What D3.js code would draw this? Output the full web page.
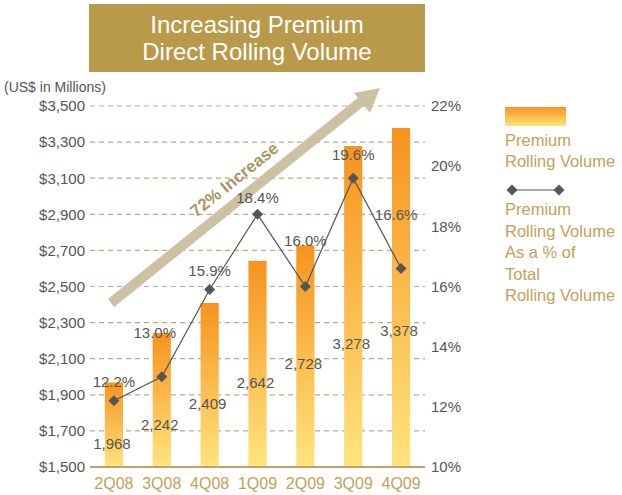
<!DOCTYPE html>
<html>
<head>
<meta charset="utf-8">
<script src="https://cdn.jsdelivr.net/npm/d3@7"></script>
<style>
    body { margin: 0; background: #fff; }
    svg { font-family: "Liberation Sans", Arial, sans-serif; }
</style>
</head>
<body>
<svg id="chart" width="622" height="495"></svg>
<script>
// dados
const quarters = ["2Q08", "3Q08", "4Q08", "1Q09", "2Q09", "3Q09", "4Q09"];
const volume = [1968, 2242, 2409, 2642, 2728, 3278, 3378];
const share = [12.2, 13.0, 15.9, 18.4, 16.0, 19.6, 16.6];
const leftTicks = [1500, 1700, 1900, 2100, 2300, 2500, 2700, 2900, 3100, 3300, 3500];
const rightTicks = [10, 12, 14, 16, 18, 20, 22];

// posicao dos rotulos (ajuste manual como no original)
const volLabelY = [444, 425, 404, 383, 364, 344, 331];
const pctLabelDx = [0, -7, 0, 0, 0, 0, -5];
const pctLabelDy = [-19, -44, -19, -16, -46, -23, -53];

const gray = "#555555", tan = "#c2a15a";

const svg = d3.select("#chart");
const plotLeft = 90, plotRight = 425, plotTop = 106, plotBottom = 467;

const x = d3.scaleBand().domain(quarters).range([plotLeft, plotRight]).paddingInner(0.62).paddingOuter(0.31);
const y = d3.scaleLinear().domain([1500, 3500]).range([plotBottom, plotTop]);
const y2 = d3.scaleLinear().domain([10, 22]).range([plotBottom, plotTop]);

// gradiente das barras
let defs = svg.append("defs");
let grad = defs.append("linearGradient").attr("id", "barGrad")
    .attr("x1", 0).attr("y1", 0).attr("x2", 0).attr("y2", 1);
grad.append("stop").attr("offset", "0%").attr("stop-color", "#f7931e");
grad.append("stop").attr("offset", "100%").attr("stop-color", "#ffe47e");

// titulo
svg.append("rect").attr("x", 89).attr("y", 4).attr("width", 336).attr("height", 68).attr("fill", "#b99a4b");
svg.append("text").attr("x", 257).attr("y", 33).attr("text-anchor", "middle")
    .attr("fill", "#fff").style("font-size", "24px").text("Increasing Premium");
svg.append("text").attr("x", 257).attr("y", 60).attr("text-anchor", "middle")
    .attr("fill", "#fff").style("font-size", "24px").text("Direct Rolling Volume");

svg.append("text").attr("x", 4).attr("y", 92).attr("fill", gray)
    .style("font-size", "14px").text("(US$ in Millions)");

// grade
svg.append("g").selectAll("line")
    .data(leftTicks.slice(1))
    .enter().append("line")
    .attr("x1", plotLeft).attr("x2", plotRight)
    .attr("y1", d => y(d)).attr("y2", d => y(d))
    .attr("stroke", "#b9ab82").attr("stroke-width", 1.2)
    .attr("stroke-dasharray", "5,4");

// eixo esquerdo
let yAxis = svg.append("g").attr("transform", `translate(${plotLeft - 2},0)`)
    .call(d3.axisLeft(y).tickValues(leftTicks).tickSize(0).tickPadding(3)
        .tickFormat(d => "$" + d3.format(",")(d)));
yAxis.select(".domain").remove();
yAxis.selectAll("text").attr("fill", gray).style("font-size", "15px")
    .style("font-family", "Liberation Sans, Arial, sans-serif");

// eixo direito
let y2Axis = svg.append("g").attr("transform", `translate(${plotRight + 6},0)`)
    .call(d3.axisRight(y2).tickValues(rightTicks).tickSize(0).tickPadding(0)
        .tickFormat(d => d + "%"));
y2Axis.select(".domain").remove();
y2Axis.selectAll("text").attr("fill", gray).style("font-size", "15px")
    .style("font-family", "Liberation Sans, Arial, sans-serif");

// barras
svg.append("g").selectAll("rect")
    .data(volume)
    .enter().append("rect")
    .attr("x", (d, i) => x(quarters[i]))
    .attr("y", d => y(d))
    .attr("width", x.bandwidth())
    .attr("height", d => plotBottom - y(d))
    .attr("fill", "url(#barGrad)");

// linha base
svg.append("line").attr("x1", plotLeft).attr("x2", plotRight)
    .attr("y1", plotBottom).attr("y2", plotBottom)
    .attr("stroke", "#b9a36e").attr("stroke-width", 2);

// eixo x
let xAxis = svg.append("g").attr("transform", `translate(0,${plotBottom})`)
    .call(d3.axisBottom(x).tickSize(0).tickPadding(11));
xAxis.select(".domain").remove();
xAxis.selectAll("text").attr("fill", tan).style("font-size", "16px")
    .style("font-family", "Liberation Sans, Arial, sans-serif");

// seta
let arrow = svg.append("g");
arrow.append("line").attr("x1", 111).attr("y1", 303).attr("x2", 362).attr("y2", 101)
    .attr("stroke", "#cdc1a4").attr("stroke-width", 10);
arrow.append("polygon").attr("points", "380,88 354,93 370,113").attr("fill", "#cdc1a4");
svg.append("text").attr("transform", "translate(238,184) rotate(-38.8)")
    .attr("text-anchor", "middle").attr("fill", "#aa9462")
    .style("font-size", "17px").style("font-weight", "bold").text("72% Increase");

// rotulos das barras
svg.append("g").selectAll("text")
    .data(volume)
    .enter().append("text")
    .attr("x", (d, i) => x(quarters[i]) + x.bandwidth() / 2 - 2)
    .attr("y", (d, i) => volLabelY[i] + 5)
    .attr("text-anchor", "middle").attr("fill", gray).style("font-size", "15px")
    .text(d => d3.format(",")(d));

// linha de percentual
const cx = (d, i) => x(quarters[i]) + x.bandwidth() / 2;
svg.append("path").datum(share)
    .attr("d", d3.line().x(cx).y(d => y2(d)))
    .attr("fill", "none").attr("stroke", gray).attr("stroke-width", 1.2);

const diamond = d3.symbol().type(d3.symbolSquare).size(60);
svg.append("g").selectAll("path")
    .data(share)
    .enter().append("path")
    .attr("d", diamond)
    .attr("transform", (d, i) => `translate(${cx(d, i)},${y2(d)}) rotate(45)`)
    .attr("fill", gray);

svg.append("g").selectAll("text")
    .data(share)
    .enter().append("text")
    .attr("x", (d, i) => cx(d, i) + pctLabelDx[i])
    .attr("y", (d, i) => y2(d) + pctLabelDy[i] + 5)
    .attr("text-anchor", "middle").attr("fill", gray).style("font-size", "15px")
    .text(d => d.toFixed(1) + "%");

// legenda
let legend = svg.append("g").attr("transform", "translate(505,0)");
legend.append("rect").attr("x", 0).attr("y", 107).attr("width", 61).attr("height", 19).attr("fill", "url(#barGrad)");
legend.selectAll("text.l1")
    .data(["Premium", "Rolling Volume"])
    .enter().append("text")
    .attr("x", 0).attr("y", (d, i) => 146 + i * 21)
    .attr("fill", tan).style("font-size", "16.5px").text(d => d);

legend.append("line").attr("x1", 7).attr("x2", 54).attr("y1", 190).attr("y2", 190)
    .attr("stroke", gray).attr("stroke-width", 1.2);
legend.selectAll("path")
    .data([7, 54])
    .enter().append("path")
    .attr("d", diamond)
    .attr("transform", d => `translate(${d},190) rotate(45)`)
    .attr("fill", gray);
legend.selectAll("text.l2")
    .data(["Premium", "Rolling Volume", "As a % of", "Total", "Rolling Volume"])
    .enter().append("text")
    .attr("x", 0).attr("y", (d, i) => 215 + i * 21.5)
    .attr("fill", tan).style("font-size", "16.5px").text(d => d);
</script>
</body>
</html>
